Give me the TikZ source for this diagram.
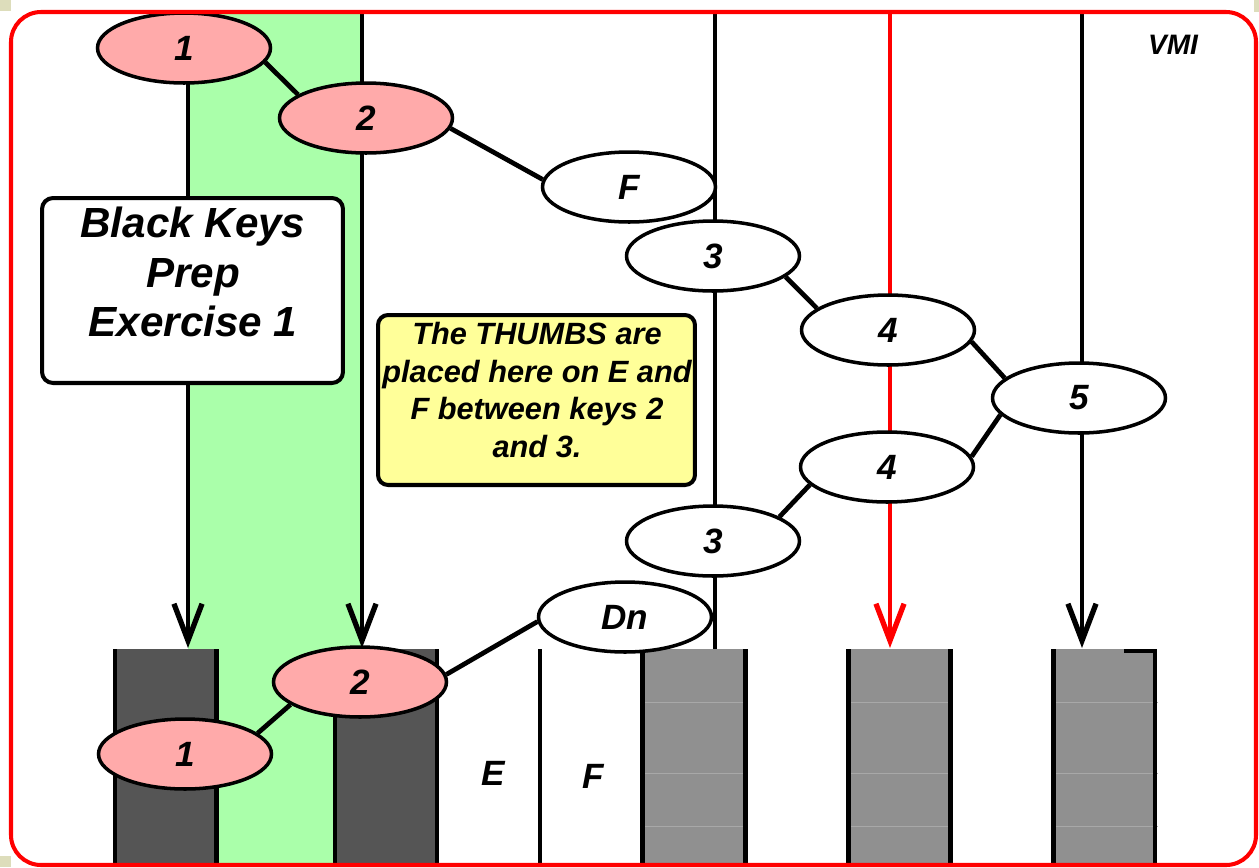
\documentclass[tikz,border=0pt]{standalone}
\usepackage{fontspec}
\setmainfont{Liberation Sans}
\usetikzlibrary{arrows.meta,shapes.geometric}
\definecolor{pinkfill}{HTML}{FFAAAA}
\definecolor{greenfill}{HTML}{AAFFAA}
\definecolor{darkkey}{HTML}{555555}
\definecolor{graykey}{HTML}{909090}
\definecolor{yellowfill}{HTML}{FFFF99}
\definecolor{beige}{HTML}{DDDDBB}
\definecolor{faint}{HTML}{A8A8A8}
\pgfdeclarelayer{bg}
\pgfdeclarelayer{lines}
\pgfsetlayers{bg,lines,main}
\tikzset{
  ell/.style={ellipse, draw, line width=2pt, minimum width=3.46cm, minimum height=1.4cm, inner sep=0pt,
    font=\fontsize{20}{24}\selectfont\bfseries\itshape},
  pinkell/.style={ell, fill=pinkfill},
  whiteell/.style={ell, fill=white},
  conn/.style={line width=2.7pt},
  vline/.style={line width=2.4pt},
  barb/.style={-{Straight Barb[length=21pt,width=16pt,line width=3pt]}},
  keyline/.style={line width=2.8pt},
  infobox/.style={draw, line width=2.3pt, rounded corners=0.22cm, inner sep=0pt, align=center},
  lbl/.style={font=\fontsize{20}{24}\selectfont\bfseries\itshape, inner sep=0pt}
}
\begin{document}
\begin{tikzpicture}[x=0.02cm,y=-0.02cm]
\useasboundingbox (0,0) rectangle (1259,867);
\begin{pgfonlayer}{bg}
  \fill[beige] (0,0) rectangle (11,11);
  \fill[beige] (1254,0) rectangle (1259,12);
  \fill[beige] (0,856) rectangle (11,867);
  \fill[greenfill] (188,12) rectangle (362,864);
  \fill[darkkey] (113,649) rectangle (218,863);
  \fill[darkkey] (333,649) rectangle (438,863);
  \fill[graykey] (642,649) rectangle (747,863);
  \fill[graykey] (848,649) rectangle (952,863);
  \fill[graykey] (1054,649) rectangle (1157,863);
  \foreach \yy in {702,773,826}{
    \foreach \a/\b in {640/748,846/953,1051/1158}
      \draw[faint, line width=0.4pt] (\a,\yy) -- (\b,\yy);
  }
  \foreach \xx in {115,216.5,335,437,540,642.5,745.5,848.5,950.5,1053.5}
    \draw[keyline] (\xx,649) -- (\xx,863);
  \draw[keyline] (1124,651) -- (1155,651) -- (1155,863);
\end{pgfonlayer}

% fingering ellipses
\node[pinkell] (t1) at (184,48) {1};
\node[pinkell] (t2) at (366,118) {2};
\node[whiteell] (f) at (629,187) {F};
\node[whiteell] (u3) at (713,256) {3};
\node[whiteell] (u4) at (888,330) {4};
\node[whiteell] (c5) at (1079,398) {5};
\node[whiteell] (l4) at (887,467) {4};
\node[whiteell] (l3) at (713,541) {3};
\node[whiteell] (dn) at (625,617) {Dn};
\node[pinkell] (b2) at (360,682) {2};
\node[pinkell] (b1) at (185,754) {1};

% coordinates for vertical lines
\coordinate (a1s) at (188,60);   \coordinate (a1e) at (188,648);
\coordinate (a2s) at (362,12);   \coordinate (a2e) at (362,648);
\coordinate (a3s) at (715,12);   \coordinate (a3e) at (715,649);
\coordinate (a4s) at (890,12);   \coordinate (a4e) at (890,648);
\coordinate (a5s) at (1082,12);  \coordinate (a5e) at (1082,648);

\begin{pgfonlayer}{lines}
  \draw[vline, barb] (a1s) -- (a1e);
  \draw[vline, barb] (a2s) -- (a2e);
  \draw[vline] (a3s) -- (a3e);
  \draw[vline, red, barb] (a4s) -- (a4e);
  \draw[vline, barb] (a5s) -- (a5e);
\end{pgfonlayer}

% connectors
\draw[conn] (t1.-10) -- (t2.161);
\draw[conn] (t2.-7) -- (f.175);
\draw[conn] (u3.-16) -- (u4.163);
\draw[conn] (u4.-8) -- (c5.165);
\draw[conn] (c5.192) -- (l4.7);
\draw[conn] (l4.193) -- (l3.20);
\draw[conn] (dn.183) -- (b2.5);
\draw[conn] (b2.198) -- (b1.16);

% boxes
\node[infobox, fill=white, minimum width=6.02cm, minimum height=3.7cm] (title) at (192.5,290.5) {};
\node[align=center, inner sep=0pt, font=\fontsize{24}{28.3}\selectfont\bfseries\itshape] (titletext) at (193,272)
      {Black Keys\\Prep\\Exercise 1};
\node[infobox, fill=yellowfill, minimum width=6.34cm, minimum height=3.4cm, rounded corners=0.2cm] (note) at (536.5,400) {};
\node[align=center, inner sep=0pt, font=\fontsize{17.5}{21.5}\selectfont\bfseries\itshape] (notetext) at (537,390)
      {The THUMBS are\\placed here on E and\\F between keys 2\\and 3.};

% labels
\node[lbl] (e) at (493,773) {E};
\node[lbl] (ff) at (593,776) {F};
\node[lbl, font=\fontsize{16}{19}\selectfont\bfseries\itshape] (vmi) at (1173,45) {VMI};

% frame
\draw[red, line width=2.3pt, rounded corners=0.6cm] (11,12) rectangle (1256,865);
\end{tikzpicture}
\end{document}
